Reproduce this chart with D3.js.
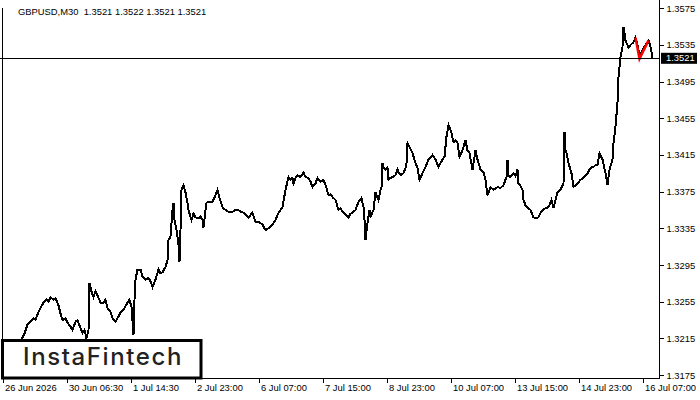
<!DOCTYPE html>
<html lang="en">
<head>
  <meta charset="UTF-8">
  <title>GBPUSD M30</title>
  <script src="https://d3js.org/d3.v7.min.js"></script>
  <style>
    body { margin: 0; background: #fff; }
    text { font-family: 'Liberation Sans', Arial, sans-serif; font-size: 9.4px; fill: #000; }
    .tick line { stroke: #000; shape-rendering: crispEdges; }
    .domain { display: none; }
  </style>
</head>
<body>
  <svg width="700" height="400"></svg>

  <script>
    // bar number (30 min bars from the left edge) and close price
    const bars = [0, 7, 15, 21, 24, 27, 30, 32, 35, 38, 40, 43, 45, 47, 50, 52, 55, 57, 59, 62,
      64, 67, 69, 72, 74, 77, 79, 81, 83, 85, 86, 88, 90, 92, 94, 97, 100, 102, 104, 107,
      109, 112, 114, 117, 120, 122, 124, 126, 128, 130, 131, 132, 134, 137, 139, 142, 145, 147, 149, 152,
      155, 157, 159, 162, 164, 165, 167, 169, 170, 171, 173, 174, 175, 176, 177, 178, 180, 182, 184, 185,
      188, 190, 192, 195, 197, 199, 200, 202, 203, 205, 209, 212, 214, 216, 219, 222, 225, 229, 232, 235,
      237, 240, 242, 245, 249, 252, 255, 259, 262, 265, 269, 272, 275, 279, 282, 285, 287, 289, 290, 292,
      294, 297, 300, 302, 305, 307, 309, 312, 314, 317, 320, 323, 325, 327, 329, 332, 335, 337, 339, 342,
      345, 347, 349, 352, 355, 358, 360, 361, 362, 364, 366, 367, 369, 370, 372, 375, 377, 378, 379, 380,
      382, 384, 385, 387, 389, 392, 394, 395, 397, 400, 402, 403, 404, 406, 409, 412, 414, 416, 419, 422,
      425, 427, 429, 432, 435, 437, 439, 441, 443, 445, 448, 450, 452, 454, 456, 459, 462, 464, 466, 469,
      472, 474, 477, 480, 482, 484, 487, 490, 494, 497, 500, 503, 504, 505, 507, 510, 512, 514, 515, 517,
      519, 520, 522, 524, 527, 530, 532, 535, 537, 539, 542, 545, 548, 550, 552, 554, 557, 560, 561, 562,
      563, 565, 568, 570, 572, 574, 577, 580, 584, 587, 590, 592, 594, 596, 597, 599, 602, 604, 606, 609,
      610, 612, 614, 615, 617, 619, 620, 622, 624, 625, 627, 630, 632, 634, 636, 638, 640, 642, 645, 647,
      649];
    const closes = [1.3202, 1.3200, 1.3207, 1.3220, 1.3230, 1.3233, 1.3237, 1.3235, 1.3244, 1.3250, 1.3254, 1.3257, 1.3255, 1.3260, 1.3257, 1.3259, 1.3251, 1.3242, 1.3235, 1.3237,
      1.3232, 1.3228, 1.3224, 1.3233, 1.3235, 1.3226, 1.3221, 1.3224, 1.3215, 1.3224, 1.3275, 1.3266, 1.3260, 1.3266, 1.3262, 1.3254, 1.3254, 1.3257, 1.3248, 1.3244,
      1.3237, 1.3233, 1.3237, 1.3243, 1.3246, 1.3250, 1.3254, 1.3257, 1.3249, 1.3219, 1.3257, 1.3279, 1.3290, 1.3290, 1.3282, 1.3279, 1.3281, 1.3277, 1.3271, 1.3279,
      1.3290, 1.3286, 1.3287, 1.3293, 1.3300, 1.3322, 1.3326, 1.3355, 1.3363, 1.3344, 1.3333, 1.3326, 1.3317, 1.3298, 1.3333, 1.3377, 1.3382, 1.3374, 1.3363, 1.3355,
      1.3344, 1.3351, 1.3347, 1.3346, 1.3348, 1.3344, 1.3336, 1.3355, 1.3363, 1.3364, 1.3364, 1.3371, 1.3377, 1.3368, 1.3358, 1.3355, 1.3353, 1.3353, 1.3355, 1.3355,
      1.3353, 1.3352, 1.3350, 1.3347, 1.3352, 1.3342, 1.3342, 1.3339, 1.3333, 1.3335, 1.3339, 1.3344, 1.3352, 1.3358, 1.3377, 1.3391, 1.3388, 1.3390, 1.3384, 1.3390,
      1.3393, 1.3391, 1.3396, 1.3391, 1.3390, 1.3386, 1.3380, 1.3384, 1.3390, 1.3386, 1.3388, 1.3379, 1.3371, 1.3372, 1.3369, 1.3366, 1.3355, 1.3357, 1.3353, 1.3350,
      1.3347, 1.3351, 1.3352, 1.3355, 1.3364, 1.3368, 1.3358, 1.3344, 1.3322, 1.3341, 1.3355, 1.3347, 1.3353, 1.3355, 1.3374, 1.3366, 1.3377, 1.3380, 1.3406, 1.3402,
      1.3399, 1.3401, 1.3388, 1.3390, 1.3391, 1.3393, 1.3399, 1.3396, 1.3393, 1.3395, 1.3401, 1.3406, 1.3428, 1.3424, 1.3417, 1.3406, 1.3401, 1.3388, 1.3395, 1.3402,
      1.3410, 1.3412, 1.3415, 1.3410, 1.3402, 1.3406, 1.3410, 1.3413, 1.3435, 1.3448, 1.3439, 1.3429, 1.3431, 1.3428, 1.3413, 1.3420, 1.3431, 1.3420, 1.3417, 1.3399,
      1.3420, 1.3410, 1.3399, 1.3396, 1.3388, 1.3371, 1.3380, 1.3377, 1.3380, 1.3379, 1.3382, 1.3391, 1.3410, 1.3392, 1.3391, 1.3395, 1.3392, 1.3399, 1.3384, 1.3381,
      1.3377, 1.3366, 1.3360, 1.3358, 1.3355, 1.3347, 1.3346, 1.3347, 1.3352, 1.3355, 1.3357, 1.3358, 1.3366, 1.3357, 1.3366, 1.3374, 1.3377, 1.3384, 1.3440, 1.3420,
      1.3417, 1.3406, 1.3395, 1.3380, 1.3382, 1.3384, 1.3388, 1.3390, 1.3395, 1.3401, 1.3402, 1.3404, 1.3404, 1.3417, 1.3415, 1.3410, 1.3395, 1.3382, 1.3399, 1.3410,
      1.3428, 1.3446, 1.3472, 1.3500, 1.3522, 1.3533, 1.3555, 1.3540, 1.3535, 1.3532, 1.3535, 1.3538, 1.3543, 1.3535, 1.3524, 1.3527, 1.3532, 1.3535, 1.3540, 1.3533,
      1.3521];

    // red pattern drawn over the last bars
    const patternBars = [632, 636, 645];
    const patternPrices = [1.3543, 1.3520, 1.3540];

    const xTickBars = [0, 64, 128, 192, 256, 320, 384, 448, 512, 576, 640];
    const xLabels = ["26 Jun 2026", "30 Jun 06:30", "1 Jul 14:30", "2 Jul 23:00", "6 Jul 07:00",
      "7 Jul 15:00", "8 Jul 23:00", "10 Jul 07:00", "13 Jul 15:00", "14 Jul 23:00", "16 Jul 07:00"];
    const yTicks = [1.3575, 1.3535, 1.3495, 1.3455, 1.3415, 1.3375, 1.3335, 1.3295, 1.3255, 1.3215, 1.3175];
    const lastPrice = 1.3521;
    const header = "GBPUSD,M30  1.3521 1.3522 1.3521 1.3521";

    const svg = d3.select("svg");
    const right = 659.5, bottom = 378.5;

    const x = d3.scaleLinear().domain([0, 656]).range([3.5, 659.5]);
    const y = d3.scaleLinear().domain([1.3175, 1.3575]).range([375, 8.3]);

    // price line
    const line = d3.line()
      .x((d, i) => x(bars[i]))
      .y(d => y(d));

    svg.append("path")
      .datum(closes)
      .attr("fill", "none")
      .attr("stroke", "#000")
      .attr("stroke-width", 2)
      .attr("stroke-linejoin", "miter")
      .attr("shape-rendering", "crispEdges")
      .attr("d", line);

    svg.append("path")
      .datum(patternPrices)
      .attr("fill", "none")
      .attr("stroke", "#ff0000")
      .attr("stroke-width", 2.5)
      .attr("d", d3.line().x((d, i) => x(patternBars[i])).y(d => y(d)));

    // current price line
    svg.append("line")
      .attr("x1", 0).attr("x2", right)
      .attr("y1", Math.round(y(lastPrice)) + 0.5).attr("y2", Math.round(y(lastPrice)) + 0.5)
      .attr("stroke", "#000");

    // frame
    svg.append("path")
      .attr("d", `M2.5,8 V${bottom} H${right} V0`)
      .attr("fill", "none")
      .attr("stroke", "#000")
      .attr("shape-rendering", "crispEdges");

    // axes
    const xAxis = svg.append("g")
      .attr("transform", `translate(0,${bottom})`)
      .call(d3.axisBottom(x).tickValues(xTickBars).tickSize(4).tickSizeOuter(0)
        .tickFormat((d, i) => xLabels[i]));
    xAxis.selectAll(".tick line").attr("x1", -0.5).attr("x2", -0.5);
    xAxis.selectAll(".tick text").attr("text-anchor", "start").attr("x", 1).attr("y", 6).attr("dy", "0.71em");

    const yAxis = svg.append("g")
      .attr("transform", `translate(${right},0)`)
      .call(d3.axisRight(y).tickValues(yTicks).tickSize(4).tickSizeOuter(0).tickFormat(d3.format(".4f")));
    yAxis.selectAll(".tick text").attr("x", 7);

    // last price label
    const py = y(lastPrice);
    svg.append("rect")
      .attr("x", 661).attr("y", py - 5).attr("width", 36).attr("height", 11)
      .attr("fill", "#000");
    svg.append("text")
      .attr("x", 666).attr("y", py + 0.5).attr("dy", "0.33em")
      .style("fill", "#fff")
      .text(d3.format(".4f")(lastPrice));

    // header
    svg.append("text")
      .attr("x", 18).attr("y", 15)
      .style("white-space", "pre")
      .text(header);

    // logo
    svg.append("rect")
      .attr("x", 2.5).attr("y", 340.5).attr("width", 198.5).attr("height", 37.5)
      .attr("fill", "#fff").attr("stroke", "#000").attr("stroke-width", 3);
    svg.append("text")
      .attr("x", 23).attr("y", 365)
      .style("font-family", "Inter, 'Open Sans', sans-serif")
      .style("font-size", "24px")
      .style("font-weight", 500)
      .style("letter-spacing", "1.6px")
      .style("fill", "#222")
      .text("InstaFintech");
  </script>
</body>
</html>
